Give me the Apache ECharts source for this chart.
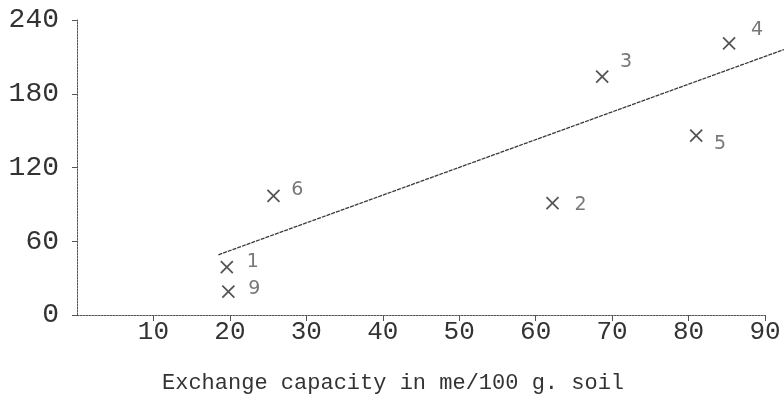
<!DOCTYPE html>
<html>
<head>
<meta charset="utf-8">
<script src="https://cdn.jsdelivr.net/npm/echarts@6/dist/echarts.min.js"></script>
<style>
  html, body { margin: 0; padding: 0; background: #fff; }
</style>
</head>
<body>
<!-- chart container, same size as the window -->
<div id="main" style="width: 784px; height: 419px"></div>
<script>
// measured points (exchange capacity vs. value)
var capacity = [19.6, 62.2, 68.7, 85.3, 81.0, 25.7, 19.8];
var amount = [39, 91, 194, 221, 146, 97, 19];
var pointIds = ['1', '2', '3', '4', '5', '6', '9'];

// fitted line end points (runs past the last tick, to the paper edge)
var fitX = [18.5, 92.5];
var fitY = [49, 216];

// tick labels
var xTicks = [10, 20, 30, 40, 50, 60, 70, 80, 90];
var yTicks = [0, 60, 120, 180, 240];

// where each handwritten number sits next to its cross
var labelOffsets = [[8, -5], [10, 2], [6, -14], [10, -13], [6, 9], [6, -6], [8, -3]];

var typeFont = 'Liberation Mono';
var ink = '#333';

var myChart = echarts.init(document.getElementById('main'));

var option = {
  animation: false,
  backgroundColor: '#fff',
  title: {
    text: 'Exchange capacity in me/100 g. soil',
    left: 157,
    top: 367,
    textStyle: { fontFamily: typeFont, fontSize: 22, fontWeight: 'normal', color: ink }
  },
  grid: [
    { left: 77, right: 19, top: 20, bottom: 104 },
    // same scale, but reaching the right edge, for the fitted line
    { left: 77, right: 0, top: 20, bottom: 104 }
  ],
  xAxis: [
    {
      type: 'value',
      gridIndex: 0,
      min: 0,
      max: 90,
      interval: 10,
      axisLine: { lineStyle: { color: '#555', width: 1, type: [2, 1] } },
      axisTick: { show: true, inside: false, length: 6, lineStyle: { color: '#555' } },
      axisLabel: {
        showMinLabel: false,
        margin: 4,
        fontFamily: typeFont,
        fontSize: 26,
        color: ink,
        formatter: function (v) { return xTicks.indexOf(v) >= 0 ? String(v) : ''; }
      },
      splitLine: { show: false }
    },
    {
      type: 'value',
      gridIndex: 1,
      min: 0,
      max: 90 * 707 / 688,
      show: false
    }
  ],
  yAxis: [
    {
      type: 'value',
      gridIndex: 0,
      min: 0,
      max: 240,
      interval: 60,
      axisLine: { show: true, lineStyle: { color: '#555', width: 1, type: [2, 1] } },
      axisTick: { show: true, length: 5, lineStyle: { color: '#555' } },
      axisLabel: {
        margin: 18,
        fontFamily: typeFont,
        fontSize: 28,
        color: ink,
        formatter: function (v) { return yTicks.indexOf(v) >= 0 ? String(v) : ''; }
      },
      splitLine: { show: false }
    },
    {
      type: 'value',
      gridIndex: 1,
      min: 0,
      max: 240,
      show: false
    }
  ],
  series: [
    {
      type: 'line',
      xAxisIndex: 1,
      yAxisIndex: 1,
      data: fitX.map(function (x, i) { return [x, fitY[i]]; }),
      showSymbol: false,
      clip: false,
      lineStyle: { color: '#3a3a3a', width: 1.3, type: [4, 1] }
    },
    {
      type: 'scatter',
      xAxisIndex: 0,
      yAxisIndex: 0,
      symbol: 'path://M0,0L10,10M10,0L0,10',
      symbolSize: 12,
      itemStyle: { color: 'transparent', borderColor: '#2a2a2a', borderWidth: 1.8 },
      data: capacity.map(function (x, i) {
        return {
          value: [x, amount[i]],
          label: {
            show: true,
            position: 'right',
            offset: labelOffsets[i],
            formatter: pointIds[i],
            fontFamily: 'DejaVu Sans',
            fontSize: 19,
            color: '#555'
          }
        };
      })
    }
  ]
};

myChart.setOption(option);
</script>
</body>
</html>
